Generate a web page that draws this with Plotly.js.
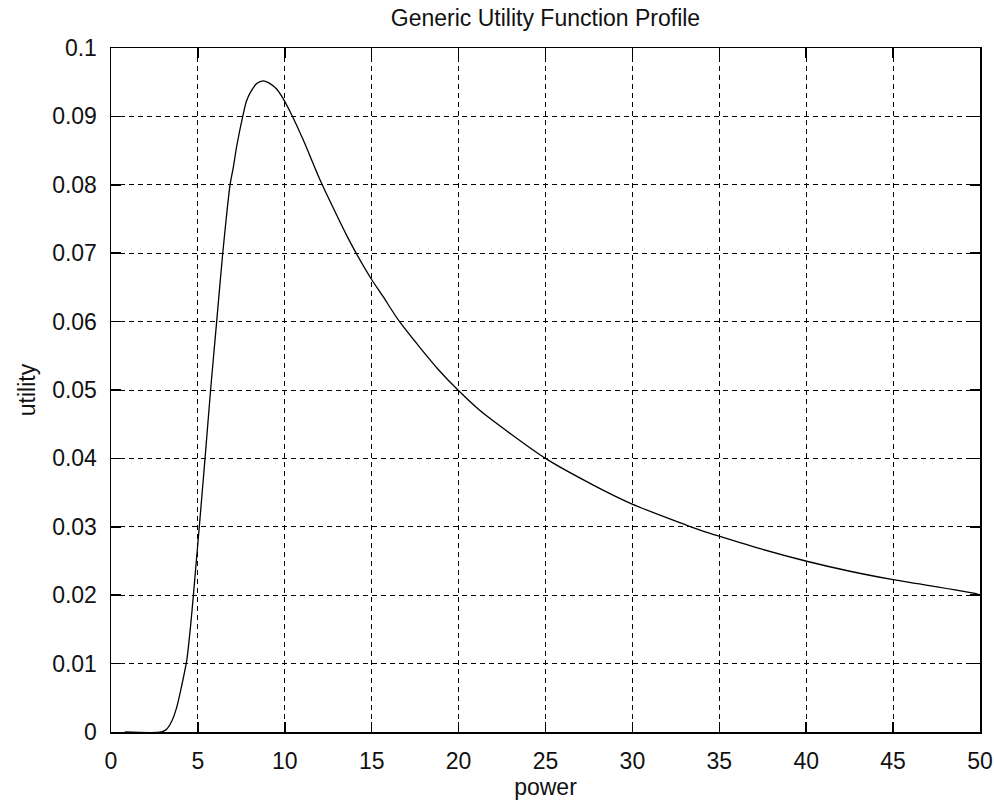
<!DOCTYPE html>
<html>
<head>
<meta charset="utf-8">
<script src="https://cdn.plot.ly/plotly-3.0.1.min.js"></script>
<style>
html,body{margin:0;padding:0;background:#fff;}
#chart{width:994px;height:806px;}
</style>
</head>
<body>
<div id="chart"></div>
<script>
// Values
var power = [0.8, 2.9, 3.2, 3.5, 3.78, 4.07, 4.36, 4.59, 4.74, 4.9, 5.08, 5.41, 5.73, 6.08, 6.43, 6.85, 7.04, 7.23, 7.58, 7.8, 8.09, 8.38, 8.76, 9.15, 9.53, 9.88, 10.4, 11.07, 12.03, 12.79, 13.56, 14.04, 14.96, 15.67, 16.57, 17.78, 18.83, 19.92, 21.23, 25, 27.75, 29.92, 33.89, 34.89, 37.34, 39.97, 42.52, 44.92, 49.81, 50];
var utility = [0, 0, 0.0004, 0.0016, 0.0036, 0.0068, 0.0105, 0.0158, 0.02, 0.0247, 0.03, 0.04, 0.05, 0.06, 0.07, 0.08, 0.0826, 0.0856, 0.09, 0.0923, 0.0938, 0.0948, 0.0952, 0.0948, 0.094, 0.0927, 0.0902, 0.0865, 0.0807, 0.0766, 0.0726, 0.0703, 0.0663, 0.0636, 0.0601, 0.0562, 0.053, 0.0501, 0.0470, 0.04, 0.0361, 0.0334, 0.0295, 0.0287, 0.0268, 0.025, 0.0235, 0.0223, 0.0202, 0.02];
var titleText = "Generic Utility Function Profile";
var xTitle = "power";
var yTitle = "utility";

var fontFamily = "Liberation Sans, Arial, sans-serif";
var axisCommon = {
  showline: true, linecolor: "#000", linewidth: 1.5, mirror: "ticks",
  ticks: "inside", ticklen: 10, tickwidth: 1.5, tickcolor: "#000",
  showgrid: true, gridcolor: "#000", gridwidth: 1, griddash: "5px,4px",
  zeroline: false, tickfont: {family: fontFamily, size: 23, color: "#111"}
};

var trace = {
  x: power, y: utility, type: "scatter", mode: "lines",
  line: {color: "#000", width: 1.3, shape: "spline", smoothing: 0.7},
  hoverinfo: "skip"
};

var layout = {
  width: 994, height: 806,
  paper_bgcolor: "#fff", plot_bgcolor: "#fff",
  margin: {l: 111, r: 14, t: 48, b: 74},
  showlegend: false,
  font: {family: fontFamily, size: 23, color: "#111"},
  title: {text: titleText, font: {family: fontFamily, size: 23, color: "#111"},
          x: 0.5, xref: "paper", xanchor: "center", y: 1 - 18/806, yref: "container", yanchor: "middle"},
  xaxis: Object.assign({}, axisCommon, {
    range: [0, 50], dtick: 5, tick0: 0, ticklabelstandoff: 8,
    title: {text: xTitle, font: {family: fontFamily, size: 23, color: "#111"}, standoff: 6}
  }),
  yaxis: Object.assign({}, axisCommon, {
    range: [0, 0.1], dtick: 0.01, tick0: 0, ticklabelstandoff: 8,
    title: {text: yTitle, font: {family: fontFamily, size: 23, color: "#111"}, standoff: 10}
  })
};

Plotly.newPlot("chart", [trace], layout, {displayModeBar: false, staticPlot: true});
</script>
</body>
</html>
